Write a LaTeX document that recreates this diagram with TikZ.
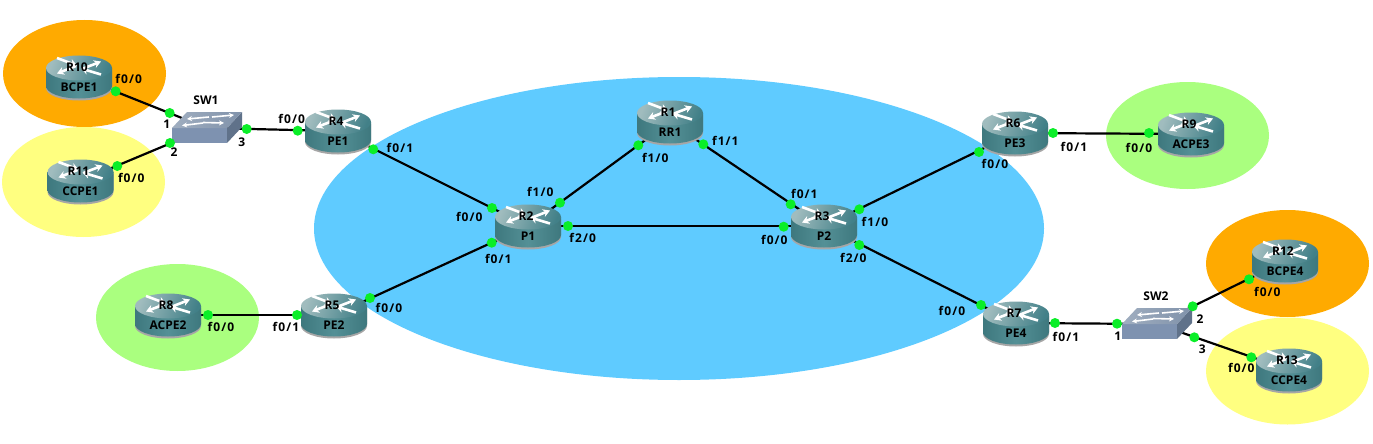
\documentclass[tikz,border=0pt]{standalone}
\usepackage{fontspec}
\setmainfont{Open Sans}
\newfontfamily\portfont[LetterSpace=9]{Open Sans}
\usetikzlibrary{backgrounds,arrows.meta}
\definecolor{areablue}{RGB}{95,203,255}
\definecolor{areaorange}{RGB}{255,170,0}
\definecolor{areayellow}{RGB}{255,255,128}
\definecolor{areagreen}{RGB}{170,255,127}
\definecolor{portgreen}{RGB}{10,238,40}
\definecolor{routerbody}{RGB}{84,144,150}
\definecolor{routerdark}{RGB}{62,120,126}
\definecolor{routerlight}{RGB}{160,188,190}
\definecolor{routertop}{RGB}{66,128,136}
\definecolor{switchtop}{RGB}{160,174,192}
\definecolor{switchtopb}{RGB}{128,146,170}
\definecolor{switchfront}{RGB}{126,146,176}
\definecolor{switchside}{RGB}{96,114,138}
\tikzset{
  routerpic/.pic={
    \fill[black!35] (-33,-7) -- (-33,11) arc[start angle=180,end angle=0,x radius=33,y radius=12.5] -- (33,-7) -- cycle;
    \shade[left color=routerdark,right color=routerdark,middle color=routerbody] (-33,-9) -- (-33,9) arc[start angle=180,end angle=0,x radius=33,y radius=12.5] -- (33,-9) -- cycle;
    \shade[left color=routerlight,right color=routertop,shading angle=70] (0,-9) ellipse[x radius=33,y radius=12.5];
    \draw[white,line width=2.6pt,-{Stealth[length=7pt,width=8pt]}] (-3,-11) -- (-22,-3.5);
    \draw[white,line width=2.6pt,-{Stealth[length=7pt,width=8pt]}] (3,-8) -- (22,-15.5);
    \draw[white,line width=2.6pt,-{Stealth[length=7pt,width=8pt]}] (-22,-19) -- (-2,-11.5);
    \draw[white,line width=2.6pt,-{Stealth[length=7pt,width=8pt]}] (22,-2.5) -- (2,-8.5);
  },
  switchpic/.pic={
    \fill[switchfront] (-35,0) rectangle (20,15);
    \fill[switchside] (20,0) -- (35,-16) -- (35,-1) -- (20,15) -- cycle;
    \shade[left color=switchtop,right color=switchtopb] (-35,0) -- (-20,-16) -- (35,-16) -- (20,0) -- cycle;
    \draw[white,line width=1.6pt,-{Stealth[length=5pt,width=5pt]}] (2,-11) -- (-20,-9);
    \draw[white,line width=1.6pt,-{Stealth[length=5pt,width=5pt]}] (5,-11) -- (27,-13);
    \draw[white,line width=1.6pt,-{Stealth[length=5pt,width=5pt]}] (-4,-5) -- (-25,-2.5);
    \draw[white,line width=1.6pt,-{Stealth[length=5pt,width=5pt]}] (-4,-5.5) -- (17,-5);
  }
}
% #1 node name, #2 position, #3 router id, #4 role
\newcommand{\routernode}[4]{
  \node [router] (#1) at (#2) {};
  \pic at (#1) {routerpic};
  \node [devlabel] (#1id) at ([xshift=-2pt,yshift=10pt]#1.center) {#3};
  \node [devlabel] (#1role) at ([yshift=-10pt]#1.center) {#4};
}
\begin{document}
\begin{tikzpicture}[x=1pt,y=-1pt]
  \tikzstyle{router}=[rectangle,minimum width=66pt,minimum height=43pt,inner sep=0pt]
  \tikzstyle{switchnode}=[rectangle,minimum width=70pt,minimum height=31pt,inner sep=0pt]
  \tikzstyle{devlabel}=[font=\fontsize{12pt}{14pt}\selectfont\bfseries,inner sep=0pt]
  \tikzstyle{portlabel}=[font=\fontsize{12pt}{14pt}\portfont\bfseries,inner sep=0pt]
  \tikzstyle{port}=[circle,fill=portgreen,minimum size=10pt,inner sep=0pt]
  \tikzstyle{edge}=[draw,black,line width=2.2pt]
  \useasboundingbox (0,0) rectangle (1373,444);

  % routers
  \routernode{r1}{670,122}{R1}{RR1}
  \routernode{r2}{528,226}{R2}{P1}
  \routernode{r3}{824,226}{R3}{P2}
  \routernode{r4}{338,131}{R4}{PE1}
  \routernode{r5}{334,315}{R5}{PE2}
  \routernode{r6}{1015,133}{R6}{PE3}
  \routernode{r7}{1016,323}{R7}{PE4}
  \routernode{r8}{168,315}{R8}{ACPE2}
  \routernode{r9}{1191,134}{R9}{ACPE3}
  \routernode{r10}{79,77}{R10}{BCPE1}
  \routernode{r11}{80.5,181}{R11}{CCPE1}
  \routernode{r12}{1285,261}{R12}{BCPE4}
  \routernode{r13}{1289,370}{R13}{CCPE4}

  % switches
  \node [switchnode] (sw1) at (207,128) {};
  \pic at (sw1) {switchpic};
  \node [devlabel] (sw1name) at (206,100) {SW1};
  \node [switchnode] (sw2) at (1157,324) {};
  \pic at (sw2) {switchpic};
  \node [devlabel] (sw2name) at (1156,296) {SW2};

  % areas and links lie under the routers
  \begin{scope}[on background layer]
    \fill[areablue] (679,228.5) ellipse[x radius=365,y radius=151.5];
    \fill[areaorange] (84.5,73.5) ellipse[x radius=81.5,y radius=53.5];
    \fill[areayellow] (83.5,182) ellipse[x radius=81.5,y radius=55];
    \fill[areagreen] (177.5,317.5) ellipse[x radius=81.5,y radius=53.5];
    \fill[areagreen] (1187.5,135.5) ellipse[x radius=81.5,y radius=53.5];
    \fill[areaorange] (1287.5,263.5) ellipse[x radius=81.5,y radius=53.5];
    \fill[areayellow] (1287.5,371) ellipse[x radius=81.5,y radius=53.5];
    \path[edge] (r10.center) -- (sw1.center);
    \path[edge] (r11.center) -- (sw1.center);
    \path[edge] (sw1.center) -- (r4.center);
    \path[edge] (r4.center) -- (r2.center);
    \path[edge] (r5.center) -- (r2.center);
    \path[edge] (r8.center) -- (r5.center);
    \path[edge] (r2.center) -- (r1.center);
    \path[edge] (r2.center) -- (r3.center);
    \path[edge] (r1.center) -- (r3.center);
    \path[edge] (r3.center) -- (r6.center);
    \path[edge] (r3.center) -- (r7.center);
    \path[edge] (r6.center) -- (r9.center);
    \path[edge] (r7.center) -- (sw2.center);
    \path[edge] (sw2.center) -- (r12.center);
    \path[edge] (sw2.center) -- (r13.center);
  \end{scope}

  % port dots
  \node [port] (p10a) at (115.7,91.3) {};
  \node [port] (psw1a) at (169.7,113) {};
  \node [port] (psw1b) at (170,143) {};
  \node [port] (p11a) at (117.3,166) {};
  \node [port] (psw1c) at (246.7,129) {};
  \node [port] (p4a) at (297.7,130.7) {};
  \node [port] (p4b) at (373.3,149.3) {};
  \node [port] (p2a) at (492,208) {};
  \node [port] (p2b) at (491.7,242.7) {};
  \node [port] (p2c) at (560,202.7) {};
  \node [port] (p2d) at (568,226) {};
  \node [port] (p1a) at (638.3,145.3) {};
  \node [port] (p1b) at (703.3,144.3) {};
  \node [port] (p3a) at (790.7,204.3) {};
  \node [port] (p3b) at (783.7,226.7) {};
  \node [port] (p3c) at (859.3,209.3) {};
  \node [port] (p3d) at (859.3,245) {};
  \node [port] (p6a) at (979,152) {};
  \node [port] (p6b) at (1053,133) {};
  \node [port] (p9a) at (1149,133) {};
  \node [port] (p7a) at (981,305) {};
  \node [port] (p7b) at (1055,323) {};
  \node [port] (psw2a) at (1117,323.7) {};
  \node [port] (psw2b) at (1192.7,306.3) {};
  \node [port] (psw2c) at (1194.3,337.3) {};
  \node [port] (p12a) at (1249,279.3) {};
  \node [port] (p13a) at (1251.3,357.3) {};
  \node [port] (p5a) at (370,298) {};
  \node [port] (p5b) at (297,315) {};
  \node [port] (p8a) at (208,315) {};

  % port labels
  \node [portlabel] (l10a) at (128.7,78.7) {f0/0};
  \node [portlabel] (lsw1a) at (166.7,124) {1};
  \node [portlabel] (lsw1b) at (174,151.7) {2};
  \node [portlabel] (lsw1c) at (241.7,142.7) {3};
  \node [portlabel] (l11a) at (131.3,178.3) {f0/0};
  \node [portlabel] (l4a) at (291.7,119.3) {f0/0};
  \node [portlabel] (l4b) at (400,148) {f0/1};
  \node [portlabel] (l2a) at (469.3,216.7) {f0/0};
  \node [portlabel] (l2b) at (498.3,258.7) {f0/1};
  \node [portlabel] (l2c) at (540.3,192.3) {f1/0};
  \node [portlabel] (l2d) at (582.7,238.3) {f2/0};
  \node [portlabel] (l1a) at (655.3,158.3) {f1/0};
  \node [portlabel] (l1b) at (725.3,141.3) {f1/1};
  \node [portlabel] (l3a) at (804.3,193.7) {f0/1};
  \node [portlabel] (l3b) at (774.3,239.7) {f0/0};
  \node [portlabel] (l3c) at (875,222) {f1/0};
  \node [portlabel] (l3d) at (853.3,258.3) {f2/0};
  \node [portlabel] (l6a) at (995,164) {f0/0};
  \node [portlabel] (l6b) at (1074,147) {f0/1};
  \node [portlabel] (l9a) at (1139,148) {f0/0};
  \node [portlabel] (l7a) at (952,311) {f0/0};
  \node [portlabel] (l7b) at (1066,337) {f0/1};
  \node [portlabel] (lsw2a) at (1117.7,336.7) {1};
  \node [portlabel] (lsw2b) at (1200,319.3) {2};
  \node [portlabel] (lsw2c) at (1202.3,349.3) {3};
  \node [portlabel] (l12a) at (1267.3,291.7) {f0/0};
  \node [portlabel] (l13a) at (1241.3,368.3) {f0/0};
  \node [portlabel] (l5a) at (389,308) {f0/0};
  \node [portlabel] (l5b) at (286,327) {f0/1};
  \node [portlabel] (l8a) at (221,327) {f0/0};
\end{tikzpicture}
\end{document}
